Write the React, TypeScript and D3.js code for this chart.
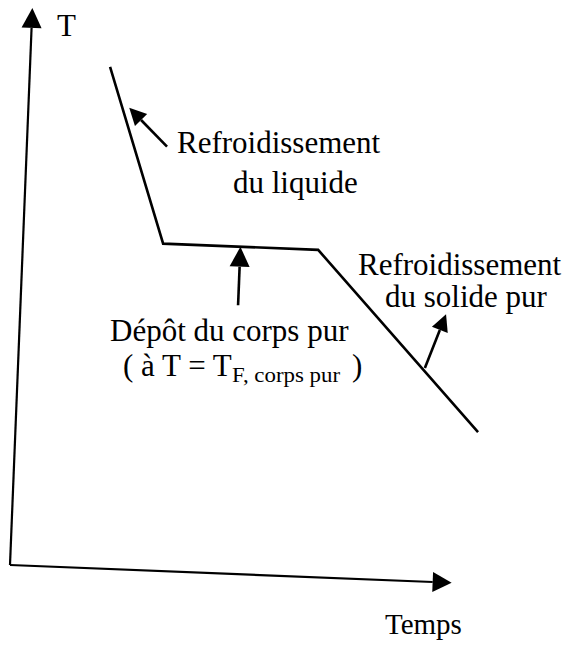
import React from "react";
import * as d3 from "d3";

// Cooling curve of a pure substance (arbitrary units)
const curveTime = [18.1, 31.7, 66.8, 104.6];
const curveTemp = [90.0, 58.7, 58.7, 27.2];

// Annotation arrows: [time, temp] start -> tip
const arrowStartTime = [31.7, 49.2, 92.0];
const arrowStartTemp = [76.1, 48.2, 38.3];
const arrowTipTime = [22.8, 49.2, 96.3];
const arrowTipTemp = [82.8, 58.7, 48.1];

const axisMaxTime = 100;
const axisMaxTemp = 100;

const yAxisLabel = "T";
const xAxisLabel = "Temps";

const W = 564;
const H = 650;
const origin = { x: 10, y: 565 };
const tilt = (2.3 * Math.PI) / 180; // the scanned figure is slightly rotated
const cosT = Math.cos(tilt);
const sinT = Math.sin(tilt);

const xScale = d3.scaleLinear().domain([0, axisMaxTime]).range([0, 442]);
const yScale = d3.scaleLinear().domain([0, axisMaxTemp]).range([0, 557.5]);

function project(t: number, temp: number): [number, number] {
  const u = xScale(t);
  const v = yScale(temp);
  return [origin.x + u * cosT + v * sinT, origin.y + u * sinT - v * cosT];
}

function arrowParts(
  from: [number, number],
  tip: [number, number],
  len: number,
  hw: number
) {
  const dx = tip[0] - from[0];
  const dy = tip[1] - from[1];
  const d = Math.hypot(dx, dy);
  const ux = dx / d;
  const uy = dy / d;
  const bx = tip[0] - ux * len;
  const by = tip[1] - uy * len;
  const px = -uy;
  const py = ux;
  const head = `${tip[0]},${tip[1]} ${bx + px * hw},${by + py * hw} ${bx - px * hw},${by - py * hw}`;
  return { line: [from, [bx, by]] as [number, number][], head };
}

const FONT = "'Liberation Serif', 'Times New Roman', Times, serif";

export default function App() {
  const line = d3.line<[number, number]>().x((p) => p[0]).y((p) => p[1]);
  const curvePts = curveTime.map((t, i) => project(t, curveTemp[i]));

  const xAxis = arrowParts(project(0, 0), project(axisMaxTime, 0), 19, 10);
  const yAxis = arrowParts(project(0, 0), project(0, axisMaxTemp), 20, 10);

  const arrows = arrowStartTime.map((t, i) =>
    arrowParts(
      project(t, arrowStartTemp[i]),
      project(arrowTipTime[i], arrowTipTemp[i]),
      i === 1 ? 20 : 17,
      i === 1 ? 10 : 8.5
    )
  );

  return (
    <svg
      width={W}
      height={H}
      style={{ position: "absolute", left: 0, top: 0, background: "#fff" }}
      fontFamily={FONT}
    >
      <rect x={0} y={0} width={W} height={H} fill="#fff" />
      {/* axes */}
      {[xAxis, yAxis].map((a, i) => (
        <g key={"ax" + i}>
          <path d={line(a.line) || ""} stroke="#000" strokeWidth={2.2} fill="none" />
          <polygon points={a.head} fill="#000" />
        </g>
      ))}
      {/* cooling curve */}
      <path
        d={line(curvePts) || ""}
        stroke="#000"
        strokeWidth={2.6}
        fill="none"
        strokeLinejoin="miter"
      />
      {/* annotation arrows */}
      {arrows.map((a, i) => (
        <g key={"ar" + i}>
          <path d={line(a.line) || ""} stroke="#000" strokeWidth={2.6} fill="none" />
          <polygon points={a.head} fill="#000" />
        </g>
      ))}
      {/* labels */}
      <g fill="#000" fontSize={31}>
        <text x={57} y={36}>{yAxisLabel}</text>
        <text x={385} y={634} fontSize={29}>{xAxisLabel}</text>
        <text x={177} y={153}>Refroidissement</text>
        <text x={233} y={193}>du liquide</text>
        <text x={358} y={275}>Refroidissement</text>
        <text x={385} y={307}>du solide pur</text>
        <text x={110} y={341}>Dépôt du corps pur</text>
        <text x={123} y={376}>
          {"( à T = T"}
          <tspan
            x={232}
            dy={6}
            fontSize={21}
            textLength={108}
            lengthAdjust="spacingAndGlyphs"
          >
            F, corps pur
          </tspan>
          <tspan x={352} dy={-6}>)</tspan>
        </text>
      </g>
    </svg>
  );
}
